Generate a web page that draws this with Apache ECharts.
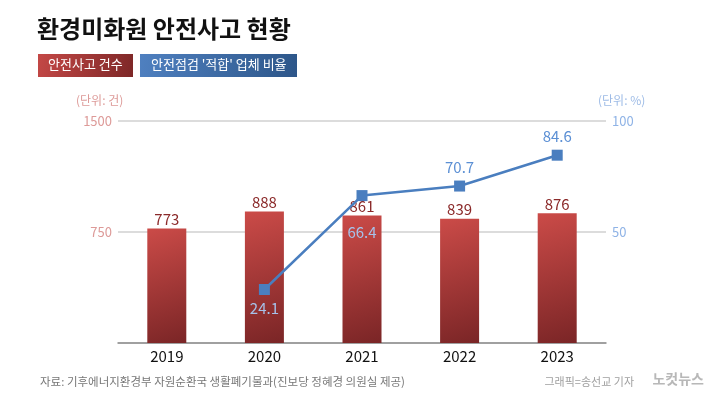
<!DOCTYPE html>
<html>
<head>
<meta charset="utf-8">
<script src="https://cdn.jsdelivr.net/npm/echarts@6/dist/echarts.min.js"></script>
<style>
  html, body { margin: 0; padding: 0; background: #fff; }
  #echart { width: 710px; height: 399px; }
</style>
</head>
<body>
<div id="echart"></div>
<script>
var years = ['2019', '2020', '2021', '2022', '2023'];
var accidents = [773, 888, 861, 839, 876];
var passRate = [null, 24.1, 66.4, 70.7, 84.6];
var leftTicks = { min: 0, max: 1500, interval: 750 };
var rightTicks = { min: 0, max: 100, interval: 50 };

var font = '"Noto Sans CJK KR", "Noto Sans", sans-serif';
var myChart = echarts.init(document.getElementById('echart'));

// 빨간 막대 안쪽에 들어가는 라벨은 연한 색으로
var lineData = passRate.map(function (v, i) {
    if (v === null) return v;
    var below = i <= 2;
    return {
        value: v,
        label: {
            position: below ? 'bottom' : 'top',
            distance: i === 2 ? 24 : 6,
            color: below ? '#a6c2ea' : '#5b8fd4'
        }
    };
});

option = {
    backgroundColor: '#fff',
    textStyle: { fontFamily: font },
    grid: { left: 118, right: 104, top: 121, bottom: 56 },
    graphic: [
        { type: 'text', left: 37, top: 17, style: { text: '환경미화원 안전사고 현황', font: 'bold 24px ' + font, fill: '#111' } },
        { type: 'rect', left: 38, top: 54, shape: { width: 95, height: 23 },
          style: { fill: new echarts.graphic.LinearGradient(0, 0, 1, 1, [{ offset: 0, color: '#c44846' }, { offset: 1, color: '#7d2727' }]) } },
        { type: 'text', left: 48, top: 58, style: { text: '안전사고 건수', font: '13px ' + font, fill: '#fff' } },
        { type: 'rect', left: 140, top: 54, shape: { width: 157, height: 23 },
          style: { fill: new echarts.graphic.LinearGradient(0, 0, 1, 1, [{ offset: 0, color: '#4f80c0' }, { offset: 1, color: '#2d5689' }]) } },
        { type: 'text', left: 151, top: 58, style: { text: "안전점검 '적합' 업체 비율", font: '13px ' + font, fill: '#fff' } },
        { type: 'text', left: 76, top: 94, style: { text: '(단위: 건)', font: '12px ' + font, fill: '#dd9a98' } },
        { type: 'text', left: 598, top: 94, style: { text: '(단위: %)', font: '12px ' + font, fill: '#9dbbe6' } },
        { type: 'text', left: 40, top: 376, style: { text: '자료: 기후에너지환경부 자원순환국 생활폐기물과(진보당 정혜경 의원실 제공)', font: '11.5px ' + font, fill: '#777' } },
        { type: 'text', right: 76, top: 376, style: { text: '그래픽=송선교 기자', font: '11px ' + font, fill: '#a0a0a0' } },
        { type: 'text', right: 6, top: 372, style: { text: '노컷뉴스', font: 'bold 14px ' + font, fill: '#b8b8b8' } }
    ],
    xAxis: {
        type: 'category',
        data: years,
        axisLine: { lineStyle: { color: '#8c8c8c', width: 1.5 } },
        axisTick: { show: false },
        axisLabel: { color: '#111', fontSize: 15, margin: 6 }
    },
    yAxis: [
        {
            type: 'value',
            min: leftTicks.min, max: leftTicks.max, interval: leftTicks.interval,
            axisLabel: {
                color: '#dd9a98', fontSize: 13, margin: 6, showMinLabel: false,
                formatter: function (v) { return String(v); }
            },
            splitLine: { lineStyle: { color: '#dcdcdc', width: 2 } },
            axisLine: { show: false }, axisTick: { show: false }
        },
        {
            type: 'value',
            min: rightTicks.min, max: rightTicks.max, interval: rightTicks.interval,
            axisLabel: { color: '#8fb3e6', fontSize: 13, margin: 6, showMinLabel: false },
            splitLine: { show: false },
            axisLine: { show: false }, axisTick: { show: false }
        }
    ],
    series: [
        {
            name: '안전사고 건수',
            type: 'bar',
            data: accidents,
            barWidth: 39,
            itemStyle: {
                color: new echarts.graphic.LinearGradient(0, 0, 1, 1, [
                    { offset: 0, color: '#cb4b48' },
                    { offset: 1, color: '#7a2526' }
                ])
            },
            label: { show: true, position: 'top', distance: 2, color: '#8b2a2a', fontSize: 15 }
        },
        {
            name: "안전점검 '적합' 업체 비율",
            type: 'line',
            yAxisIndex: 1,
            data: lineData,
            symbol: 'rect',
            symbolSize: 11,
            lineStyle: { color: '#4a7ebf', width: 2.5 },
            itemStyle: { color: '#4a7ebf' },
            label: { show: true, fontSize: 15 }
        }
    ]
};
myChart.setOption(option);
</script>
</body>
</html>
